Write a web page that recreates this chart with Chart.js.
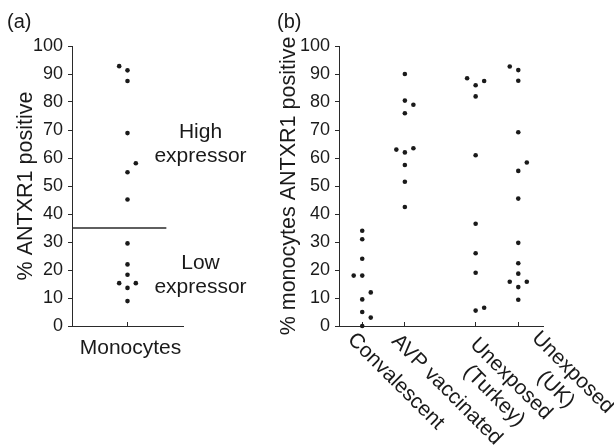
<!DOCTYPE html>
<html><head><meta charset="utf-8">
<script src="https://cdn.jsdelivr.net/npm/chart.js@4"></script>
<style>
html,body{margin:0;padding:0;background:#fff;}
#wrap{position:relative;width:614px;height:448px;overflow:hidden;}
canvas{position:absolute;top:0;}
#ca{left:0;}
#cb{left:260px;}
</style></head><body>
<div id="wrap"><canvas id="ca" width="260" height="448"></canvas><canvas id="cb" width="354" height="448"></canvas></div>
<script>
// ---------- data ----------
const yTickValues = [0,10,20,30,40,50,60,70,80,90,100];
const panelALabel = 'Monocytes';
const monoCenter = [91.3, 87.5, 68.9, 54.9, 45.2, 29.5, 22.0, 18.3, 13.6, 8.9];
const monoLeft = [92.8, 15.3];
const monoRight = [58.1, 15.3];
const thresholdValue = 35;

const categories = [['Convalescent'], ['AVP vaccinated'], ['Unexposed','(Turkey)'], ['Unexposed','(UK)']];
const convCenter = [34, 31, 24, 18, 9.5, 5, 0];
const convLeft = [18];
const convRight = [12, 3];
const avpCenter = [90, 80.5, 76, 62, 57.5, 51.5, 42.5];
const avpLeft = [63];
const avpRight = [79, 63.5];
const turkeyCenter = [86, 82, 61, 36.5, 26, 19, 5.5];
const turkeyLeft = [88.5];
const turkeyRight = [87.5, 6.5];
const ukCenter = [91.4, 87.6, 69.2, 55.4, 45.5, 29.7, 22.4, 18.7, 13.9, 9.4];
const ukLeft = [92.7, 15.8];
const ukRight = [58.4, 15.8];

// ---------- layout / style ----------
const catPos = [1, 2, 3.66, 4.66];
const labelNudge = [[0,0],[2,0],[10,-3],[19,-21]]; // [along text, across text] in px
const FONT = 'Liberation Sans, Arial, Helvetica, sans-serif';
const INK = '#1a1a1a';
const AXIS = '#2a2a2a';
const DOT_R = 2.3;
const TXT = 21;

function pts(vals, x){ return vals.map(v => ({x: x, y: v})); }
function dotSet(data){
  return {type:'scatter', data: data, pointRadius: DOT_R, pointHoverRadius: DOT_R,
    pointBackgroundColor: INK, pointBorderWidth: 0, showLine:false};
}

function yScale(titleText, titlePad){
  return {
    type:'linear', min:0, max:100,
    afterBuildTicks: s => { s.ticks = yTickValues.map(v => ({value:v})); },
    ticks:{font:{family:FONT,size:18}, color:INK, padding:5},
    grid:{drawOnChartArea:false, drawTicks:true, tickLength:4, color:AXIS, lineWidth:1},
    border:{display:true, color:AXIS, width:1},
    title:{display:true, text:titleText, font:{family:FONT,size:21.5}, color:INK, padding:{top:titlePad,bottom:0}},
    afterFit: s => { s.width = s.chart.options.layout.yw; }
  };
}

function panelTag(text, x, y){
  return {id:'tag'+text, afterDraw(chart){
    const c = chart.ctx; c.save();
    c.font = '20px ' + FONT; c.fillStyle = INK; c.textBaseline = 'top'; c.textAlign = 'left';
    c.fillText(text, x, y); c.restore();
  }};
}

// ---------- panel (a) ----------
const annotA = {id:'annotA', afterDraw(chart){
  const c = chart.ctx, ys = chart.scales.y;
  c.save(); c.font = TXT + 'px ' + FONT; c.fillStyle = INK; c.textAlign = 'center'; c.textBaseline = 'alphabetic';
  const cx = 200.5;
  [['High',67.1],['expressor',58.6],['Low',20.4],['expressor',11.8]].forEach(([t,v]) => {
    c.fillText(t, cx, ys.getPixelForValue(v));
  });
  c.restore();
}};

new Chart(document.getElementById('ca'), {
  type:'scatter',
  data:{datasets:[
    dotSet(pts(monoCenter, 1)),
    dotSet(pts(monoLeft, 0.85)),
    dotSet(pts(monoRight, 1.15)),
    {type:'line', data:[{x:0,y:thresholdValue},{x:1.7,y:thresholdValue}], borderColor:AXIS, borderWidth:1.3, pointRadius:0, fill:false}
  ]},
  options:{
    responsive:false, animation:false, events:[],
    layout:{padding:{top:46,right:77,left:0,bottom:0}, yw:72},
    plugins:{legend:{display:false}, tooltip:{enabled:false}},
    scales:{
      x:{type:'linear', min:0, max:2,
        afterBuildTicks: s => { s.ticks = [{value:1}]; },
        ticks:{callback: () => panelALabel, font:{family:FONT,size:TXT}, color:INK, padding:14, maxRotation:0, labelOffset:3},
        grid:{drawOnChartArea:false, drawTicks:true, tickLength:-4, color:AXIS},
        border:{display:true, color:AXIS, width:1},
        afterFit: s => { s.height = 122; }
      },
      y: yScale('% ANTXR1 positive', 13)
    }
  },
  plugins:[annotA, panelTag('(a)', 7, 12)]
});

// ---------- panel (b) ----------
const catLabels = {id:'catLabels', afterDraw(chart){
  const c = chart.ctx, xs = chart.scales.x, axisY = chart.chartArea.bottom;
  c.save(); c.font = TXT + 'px ' + FONT; c.fillStyle = INK; c.textBaseline = 'top'; c.textAlign = 'left';
  const lh = 24;
  categories.forEach((lines, i) => {
    const px = xs.getPixelForValue(catPos[i]);
    const wmax = Math.max(...lines.map(l => c.measureText(l).width));
    const [na, nc] = labelNudge[i];
    c.save();
    c.translate(px - 4, axisY + 3);
    c.rotate(Math.PI/4);
    lines.forEach((l, j) => {
      const w = c.measureText(l).width;
      c.fillText(l, na + (wmax - w)/2, nc + j*lh);
    });
    c.restore();
  });
  c.restore();
}};

const J = 0.2;
new Chart(document.getElementById('cb'), {
  type:'scatter',
  data:{datasets:[
    dotSet(pts(convCenter, catPos[0])), dotSet(pts(convLeft, catPos[0]-J)), dotSet(pts(convRight, catPos[0]+J)),
    dotSet(pts(avpCenter, catPos[1])), dotSet(pts(avpLeft, catPos[1]-J)), dotSet(pts(avpRight, catPos[1]+J)),
    dotSet(pts(turkeyCenter, catPos[2])), dotSet(pts(turkeyLeft, catPos[2]-J)), dotSet(pts(turkeyRight, catPos[2]+J)),
    dotSet(pts(ukCenter, catPos[3])), dotSet(pts(ukLeft, catPos[3]-J)), dotSet(pts(ukRight, catPos[3]+J))
  ]},
  options:{
    responsive:false, animation:false, events:[],
    layout:{padding:{top:46,right:71,left:0,bottom:0}, yw:79},
    plugins:{legend:{display:false}, tooltip:{enabled:false}},
    scales:{
      x:{type:'linear', min:0.455, max:5.24,
        afterBuildTicks: s => { s.ticks = catPos.map(v => ({value:v})); },
        ticks:{display:false},
        grid:{drawOnChartArea:false, drawTicks:true, tickLength:-4, color:AXIS},
        border:{display:true, color:AXIS, width:1},
        afterFit: s => { s.height = 122; }
      },
      y: yScale('% monocytes ANTXR1 positive', 16)
    },
    clip:false
  },
  plugins:[catLabels, panelTag('(b)', 17, 12)]
});
</script>
</body></html>
